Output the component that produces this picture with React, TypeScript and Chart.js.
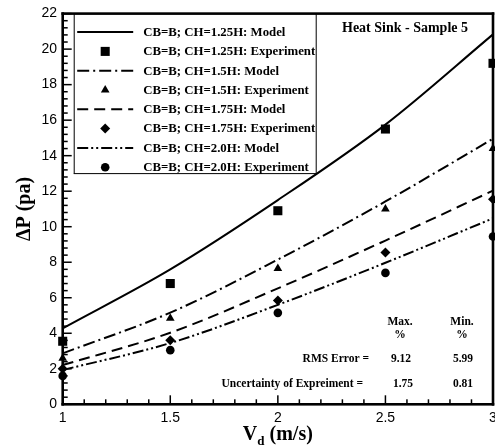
import React, { useEffect, useRef } from "react";
import { Chart, registerables } from "chart.js";

Chart.register(...registerables);

const velocity = [1, 1.5, 2, 2.5, 3];
const model125 = [4.28, 7.6, 11.5, 15.75, 20.83];
const exp125 = [3.55, 6.8, 10.9, 15.5, 19.2];
const model15 = [2.87, 5.16, 8.15, 11.42, 14.95];
const exp15 = [2.6, 4.85, 7.65, 11.0, 14.4];
const model175 = [2.21, 4.03, 6.53, 9.22, 12.03];
const exp175 = [2.0, 3.6, 5.85, 8.55, 11.55];
const model20 = [1.93, 3.45, 5.6, 7.97, 10.47];
const exp20 = [1.6, 3.05, 5.15, 7.4, 9.45];

const labels = [
  "CB=B; CH=1.25H: Model",
  "CB=B; CH=1.25H: Experiment",
  "CB=B; CH=1.5H: Model",
  "CB=B; CH=1.5H: Experiment",
  "CB=B; CH=1.75H: Model",
  "CB=B; CH=1.75H: Experiment",
  "CB=B; CH=2.0H: Model",
  "CB=B; CH=2.0H: Experiment",
];
const xTickLabels = ["1", "1.5", "2", "2.5", "3"];
const chartTitle = "Heat Sink - Sample 5";
const yTitle = "\u0394P (pa)";
const errHeaders = ["Max.", "Min."];
const errRows = [
  { label: "RMS Error =", max: "9.12", min: "5.99" },
  { label: "Uncertainty of Expreiment =", max: "1.75", min: "0.81" },
];

const toPts = (ys: number[]) => velocity.map((x, i) => ({ x, y: ys[i] }));

const SERIF = '"Liberation Serif", "Times New Roman", serif';

function drawMarker(ctx: CanvasRenderingContext2D, style: string, r: number, x: number, y: number) {
  ctx.save();
  ctx.fillStyle = "#000";
  ctx.beginPath();
  if (style === "rect") {
    const s = Math.SQRT1_2 * r;
    ctx.rect(x - s, y - s, 2 * s, 2 * s);
  } else if (style === "rectRot") {
    ctx.moveTo(x, y - r);
    ctx.lineTo(x + r, y);
    ctx.lineTo(x, y + r);
    ctx.lineTo(x - r, y);
    ctx.closePath();
  } else if (style === "triangle") {
    const hh = r * 1.5;
    const ww = r * Math.sqrt(3);
    ctx.moveTo(x, y - r);
    ctx.lineTo(x + ww / 2, y - r + hh);
    ctx.lineTo(x - ww / 2, y - r + hh);
    ctx.closePath();
  } else {
    ctx.arc(x, y, r, 0, Math.PI * 2);
  }
  ctx.fill();
  ctx.restore();
}

function drawFrame(chart: any) {
  const ctx = chart.ctx;
  const a = chart.chartArea;
  const xs = chart.scales.x;
  const ys = chart.scales.y;
  ctx.save();
  ctx.fillStyle = "#000";
  ctx.font = "12px sans-serif";
  ctx.fillText("", 0, 0);
  for (let i = 0; i <= 55; i++) {
    const py = ys.getPixelForValue(i * 0.4);
    const len = i % 5 === 0 ? 9 : 5;
    ctx.fillRect(a.left, py - 0.75, len, 1.5);
  }
  for (let i = 0; i <= 20; i++) {
    const px = xs.getPixelForValue(1 + i * 0.1);
    const len = i % 5 === 0 ? 9 : 5;
    ctx.fillRect(px - 0.75, a.bottom - len, 1.5, len);
  }
  const t = 2.6;
  ctx.fillRect(a.left - t / 2, a.top - t / 2, a.right - a.left + t, t);
  ctx.fillRect(a.left - t / 2, a.bottom - t / 2, a.right - a.left + t, t);
  ctx.fillRect(a.left - t / 2, a.top - t / 2, t, a.bottom - a.top + t);
  ctx.fillRect(a.right - t / 2, a.top - t / 2, t, a.bottom - a.top + t);
  ctx.restore();
}

const textPlugin = {
  id: "overlayText",
  afterDraw(chart: any) {
    const ctx = chart.ctx;
    const a = chart.chartArea;
    ctx.save();
    // legend box
    const bl = a.left + 11.5;
    const bt = a.top;
    const bw = 242;
    const bh = 160;
    ctx.fillStyle = "#fff";
    ctx.fillRect(bl, bt + 1.3, bw, bh - 1.3);
    ctx.fillStyle = "#000";
    ctx.fillRect(bl - 0.5, bt, 1, bh);
    ctx.fillRect(bl + bw - 0.5, bt, 1, bh);
    ctx.fillRect(bl - 0.5, bt + bh - 0.5, bw + 1, 1);
    ctx.fillRect(bl - 0.5, bt - 0.5, bw + 1, 1);
    chart.data.datasets.forEach((ds: any, i: number) => {
      const ry = bt + 18.5 + i * 19.3;
      if (ds.showLine !== false) {
        ctx.save();
        ctx.strokeStyle = "#000";
        ctx.lineWidth = ds.borderWidth;
        ctx.setLineDash(ds.borderDash || []);
        ctx.beginPath();
        ctx.moveTo(bl + 3, ry);
        ctx.lineTo(bl + 59, ry);
        ctx.stroke();
        ctx.restore();
      } else {
        drawMarker(ctx, ds.pointStyle, ds.pointRadius, bl + 31, ry);
      }
      ctx.fillStyle = "#000";
      ctx.font = `700 12.8px ${SERIF}`;
      ctx.textAlign = "left";
      ctx.textBaseline = "middle";
      ctx.fillText(ds.label, bl + 69, ry + 0.5);
    });

    ctx.font = `700 14px ${SERIF}`;
    ctx.textAlign = "center";
    ctx.textBaseline = "middle";
    ctx.fillText(chartTitle, 405, 28);

    ctx.font = `700 11.5px ${SERIF}`;
    ctx.fillText(errHeaders[0], 400, 322.5);
    ctx.fillText("%", 400, 335);
    ctx.fillText(errHeaders[1], 462, 322.5);
    ctx.fillText("%", 462, 335);
    const rowY = [359, 384];
    errRows.forEach((r, i) => {
      ctx.textAlign = "right";
      ctx.fillText(r.label, i === 0 ? 369 : 363, rowY[i]);
      ctx.textAlign = "center";
      ctx.fillText(r.max, i === 0 ? 401 : 403, rowY[i]);
      ctx.fillText(r.min, 463, rowY[i]);
    });

    ctx.font = `700 20px ${SERIF}`;
    ctx.save();
    ctx.translate(25, (a.top + a.bottom) / 2);
    ctx.rotate(-Math.PI / 2);
    ctx.textAlign = "center";
    ctx.textBaseline = "middle";
    ctx.fillText(yTitle, 0, 0);
    ctx.restore();

    ctx.textBaseline = "alphabetic";
    ctx.textAlign = "left";
    ctx.font = `700 20px ${SERIF}`;
    const wV = ctx.measureText("V").width;
    const wRest = ctx.measureText(" (m/s)").width;
    ctx.font = `700 13px ${SERIF}`;
    const wd = ctx.measureText("d").width;
    let sx = (a.left + a.right) / 2 - (wV + wd + wRest) / 2;
    const base = 440;
    ctx.font = `700 20px ${SERIF}`;
    ctx.fillText("V", sx, base);
    sx += wV;
    ctx.font = `700 13px ${SERIF}`;
    ctx.fillText("d", sx, base + 5);
    sx += wd;
    ctx.font = `700 20px ${SERIF}`;
    ctx.fillText(" (m/s)", sx, base);
    ctx.restore();

    drawFrame(chart);
  },
};

export default function App() {
  const ref = useRef<HTMLCanvasElement | null>(null);
  useEffect(() => {
    if (!ref.current) return;
    const lineDs = (label: string, ys: number[], dash: number[]) => ({
      label,
      data: toPts(ys),
      borderColor: "#000",
      backgroundColor: "#000",
      borderWidth: 2,
      borderDash: dash,
      pointRadius: 0,
      cubicInterpolationMode: "monotone",
      fill: false,
      showLine: true,
      clip: false,
    });
    const expDs = (label: string, ys: number[], style: string, r: number) => ({
      label,
      data: toPts(ys),
      showLine: false,
      pointStyle: style,
      pointRadius: r,
      pointBackgroundColor: "#000",
      pointBorderColor: "#000",
      pointBorderWidth: 0,
      borderWidth: 0,
      backgroundColor: "#000",
      borderColor: "#000",
      clip: false,
    });
    const chart = new Chart(ref.current, {
      type: "scatter",
      data: {
        datasets: [
          lineDs(labels[0], model125, []),
          expDs(labels[1], exp125, "rect", 6.4),
          lineDs(labels[2], model15, [12, 4, 2, 4]),
          expDs(labels[3], exp15, "triangle", 5),
          lineDs(labels[4], model175, [11, 6]),
          expDs(labels[5], exp175, "rectRot", 5),
          lineDs(labels[6], model20, [11, 3, 2, 3, 2, 3]),
          expDs(labels[7], exp20, "circle", 4.3),
        ] as any,
      },
      options: {
        animation: false,
        responsive: false,
        devicePixelRatio: 1,
        layout: { autoPadding: false, padding: { top: 13.6, right: 2, left: 0, bottom: 0 } },
        plugins: { legend: { display: false }, tooltip: { enabled: false } },
        scales: {
          x: {
            type: "linear",
            min: 1,
            max: 3,
            grid: { display: false, drawTicks: false },
            border: { display: false },
            ticks: {
              stepSize: 0.5,
              padding: 5,
              color: "#000",
              font: { family: '"Liberation Sans", Arial, sans-serif', size: 14 },
              maxRotation: 0,
              autoSkip: false,
              callback: (v: any) => {
                const halfIdx = Math.round((Number(v) - 1) / 0.5);
                return xTickLabels[halfIdx] ?? "";
              },
            },
            afterFit: (s: any) => {
              s.height = 42.7;
              s.paddingLeft = 0;
              s.paddingRight = 0;
            },
          },
          y: {
            type: "linear",
            min: 0,
            max: 22,
            grid: { display: false, drawTicks: false },
            border: { display: false },
            ticks: {
              stepSize: 2,
              padding: 5.7,
              color: "#000",
              font: { family: '"Liberation Sans", Arial, sans-serif', size: 14 },
            },
            afterFit: (s: any) => {
              s.width = 62.7;
              s.paddingTop = 0;
              s.paddingBottom = 0;
            },
          },
        },
      } as any,
      plugins: [textPlugin as any],
    });
    return () => chart.destroy();
  }, []);
  return (
    <div style={{ position: "fixed", left: 0, top: 0, width: 495, height: 447, background: "#fff" }}>
      <canvas ref={ref} width={495} height={447} style={{ display: "block", width: 495, height: 447 }} />
    </div>
  );
}
